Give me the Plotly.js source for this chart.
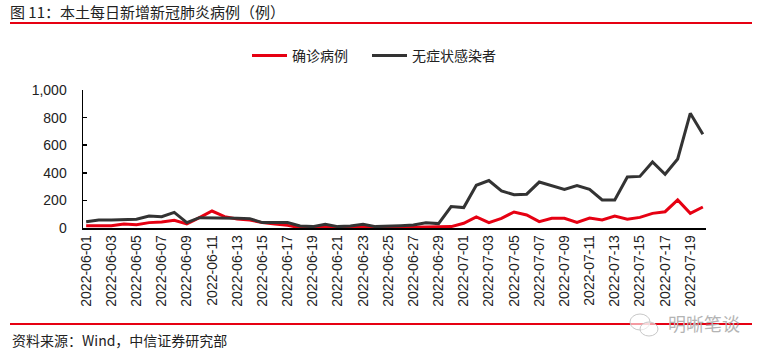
<!DOCTYPE html>
<html>
<head>
<meta charset="utf-8">
<script src="https://cdn.plot.ly/plotly-3.0.1.min.js"></script>
<style>html,body{margin:0;padding:0;background:#fff;}#chart{width:767px;height:356px;}</style>
</head>
<body>
<div id="chart"></div>
<script>
var dates = ["2022-06-01","2022-06-02","2022-06-03","2022-06-04","2022-06-05","2022-06-06","2022-06-07","2022-06-08","2022-06-09","2022-06-10",
"2022-06-11","2022-06-12","2022-06-13","2022-06-14","2022-06-15","2022-06-16","2022-06-17","2022-06-18","2022-06-19","2022-06-20",
"2022-06-21","2022-06-22","2022-06-23","2022-06-24","2022-06-25","2022-06-26","2022-06-27","2022-06-28","2022-06-29","2022-06-30",
"2022-07-01","2022-07-02","2022-07-03","2022-07-04","2022-07-05","2022-07-06","2022-07-07","2022-07-08","2022-07-09","2022-07-10",
"2022-07-11","2022-07-12","2022-07-13","2022-07-14","2022-07-15","2022-07-16","2022-07-17","2022-07-18","2022-07-19","2022-07-20"];
var confirmed = [17,17,17,29,24,39,43,56,29,75,
123,82,65,58,39,29,19,2,7,5,
5,10,10,5,2,3,5,5,5,10,
34,80,39,70,116,94,46,70,70,41,
72,58,87,63,77,106,118,203,106,152];
var asymptomatic = [46,58,58,58,63,87,82,113,39,75,
75,75,70,68,39,39,39,14,10,27,
10,14,27,10,12,17,22,38,32,155,
148,310,344,269,241,245,333,304,280,307,
280,203,203,370,374,478,389,500,831,679];
var tickDates = ["2022-06-01","2022-06-03","2022-06-05","2022-06-07","2022-06-09","2022-06-11","2022-06-13","2022-06-15","2022-06-17","2022-06-19",
"2022-06-21","2022-06-23","2022-06-25","2022-06-27","2022-06-29","2022-07-01","2022-07-03","2022-07-05","2022-07-07","2022-07-09",
"2022-07-11","2022-07-13","2022-07-15","2022-07-17","2022-07-19"];
var seriesNames = ["确诊病例","无症状感染者"];
var yTicks = [0,200,400,600,800,1000];
var yTickText = ["0","200","400","600","800","1,000"];

var cjk = '"Noto Sans CJK SC", "Liberation Sans", sans-serif';
var num = '"Liberation Sans", Arial, sans-serif';

var traces = [
  {x: dates, y: confirmed, name: seriesNames[0], type: 'scatter', mode: 'lines',
   line: {color: '#e60012', width: 3}, legend: 'legend'},
  {x: dates, y: asymptomatic, name: seriesNames[1], type: 'scatter', mode: 'lines',
   line: {color: '#333333', width: 3}, legend: 'legend2'}
];

var W = 767, H = 356, L = 83, R = 61, T = 90, B = 128;
var pw = W - L - R, ph = H - T - B;
function px(x){ return (x - L) / pw; }
function py(y){ return (H - B - y) / ph; }

var legendStyle = function(xpix){
  return {orientation: 'h', x: px(xpix), xanchor: 'left', y: py(56), yanchor: 'middle',
          font: {family: cjk, size: 14, color: '#222222'}, bgcolor: 'rgba(0,0,0,0)',
          itemwidth: 35};
};

var layout = {
  width: W, height: H,
  margin: {l: L, r: R, t: T, b: B, pad: 0},
  paper_bgcolor: '#ffffff', plot_bgcolor: '#ffffff',
  showlegend: true,
  title: {text: '图 11：本土每日新增新冠肺炎病例（例）', x: 10/W, xref: 'container', xanchor: 'left',
          y: 1 - 13/H, yref: 'container', yanchor: 'middle',
          font: {family: cjk, size: 15, color: '#222222'}},
  legend: legendStyle(247),
  legend2: legendStyle(367),
  xaxis: {type: 'category', range: [-0.25, 49.25], showgrid: false, zeroline: false,
          showline: true, linecolor: '#000000', linewidth: 1.5,
          tickmode: 'array', tickvals: tickDates, ticktext: tickDates, tickangle: -90,
          ticks: '', tickfont: {family: num, size: 14, color: '#222222'}, fixedrange: true},
  yaxis: {range: [0, 1000], showgrid: false, zeroline: false, showline: true,
          linecolor: '#000000', linewidth: 1.5, ticks: 'inside', ticklen: 4, tickwidth: 1.5,
          tickcolor: '#000000', tickmode: 'array', tickvals: yTicks, ticktext: yTickText,
          ticklabelstandoff: 12,
          tickfont: {family: num, size: 14, color: '#222222'}, fixedrange: true},
  shapes: [
    {type: 'line', xref: 'paper', yref: 'paper', x0: px(10), x1: px(752), y0: py(23), y1: py(23),
     line: {color: '#e60012', width: 2}},
    {type: 'line', xref: 'paper', yref: 'paper', x0: px(10), x1: px(752), y0: py(324), y1: py(324),
     line: {color: '#e60012', width: 2}},
    {type: 'circle', xref: 'paper', yref: 'paper', x0: px(630), x1: px(650), y0: py(330), y1: py(314),
     line: {color: '#c8c8c8', width: 1}, fillcolor: 'rgba(255,255,255,0.6)'},
    {type: 'circle', xref: 'paper', yref: 'paper', x0: px(640), x1: px(658), y0: py(336), y1: py(322),
     line: {color: '#c8c8c8', width: 1}, fillcolor: 'rgba(255,255,255,0.6)'}
  ],
  annotations: [
    {text: '资料来源：Wind，中信证券研究部', xref: 'paper', yref: 'paper', x: px(10), y: py(340),
     xanchor: 'left', yanchor: 'middle', showarrow: false,
     font: {family: cjk, size: 14, color: '#222222'}},
    {text: '明晰笔谈', xref: 'paper', yref: 'paper', x: px(704), y: py(323),
     xanchor: 'center', yanchor: 'middle', showarrow: false,
     font: {family: cjk, size: 18, color: '#b4b4b4'}}
  ]
};

Plotly.newPlot('chart', traces, layout, {displayModeBar: false, staticPlot: true});
</script>
</body>
</html>
